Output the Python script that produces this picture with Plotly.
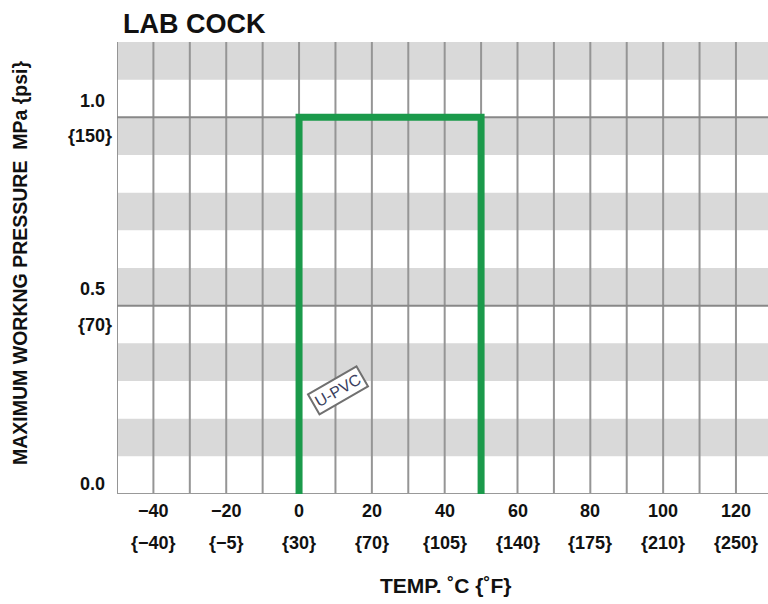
import plotly.graph_objects as go

# ---- data ----
temp_c_ticks = [-40, -20, 0, 20, 40, 60, 80, 100, 120]
temp_f_labels = ["{−40}", "{−5}", "{30}", "{70}", "{105}", "{140}", "{175}", "{210}", "{250}"]
temp_c_labels = ["−40", "−20", "0", "20", "40", "60", "80", "100", "120"]
grid_x = list(range(-50, 121, 10))
pressure_ticks = [0.0, 0.5, 1.0]
pressure_labels = ["0.0", "0.5", "1.0"]
psi_ticks = [0.5, 1.0]
psi_labels = ["{70}", "{150}"]
band_lows = [0.1, 0.3, 0.5, 0.7, 0.9, 1.1]
band_highs = [0.2, 0.4, 0.6, 0.8, 1.0, 1.2]
upvc_temp = [0, 0, 50, 50]
upvc_pressure = [0.0, 1.0, 1.0, 0.0]

X_RANGE = [-50, 128.8]
Y_RANGE = [0, 1.2]
FONT = "Liberation Sans"

fig = go.Figure()
fig.add_trace(go.Scatter(x=upvc_temp, y=upvc_pressure, mode="lines",
                         line=dict(color="#1b9a4b", width=7), showlegend=False,
                         hoverinfo="skip"))

shapes = []
for lo, hi in zip(band_lows, band_highs):
    shapes.append(dict(type="rect", xref="paper", yref="y", x0=0, x1=1, y0=lo, y1=hi,
                       fillcolor="#d9d9d9", line=dict(width=0), layer="below"))
for gx in grid_x:
    shapes.append(dict(type="line", xref="x", yref="paper", x0=gx, x1=gx, y0=0, y1=1,
                       line=dict(color="#959595", width=2), layer="below"))
for py in [0.5, 1.0]:
    shapes.append(dict(type="line", xref="paper", yref="y", x0=0, x1=1, y0=py, y1=py,
                       line=dict(color="#888888", width=2), layer="below"))
shapes.append(dict(type="line", xref="paper", yref="y", x0=0, x1=1, y0=0, y1=0,
                   line=dict(color="#999999", width=2), layer="below"))

ann = []
tick_font = dict(family=FONT, size=18, color="#111111", weight="bold")
for xv, lab, flab in zip(temp_c_ticks, temp_c_labels, temp_f_labels):
    ann.append(dict(x=xv, y=0, xref="x", yref="paper", text=lab, showarrow=False,
                    xanchor="center", yanchor="middle", yshift=-17, font=tick_font))
    ann.append(dict(x=xv, y=0, xref="x", yref="paper", text=flab, showarrow=False,
                    xanchor="center", yanchor="middle", yshift=-48.5, font=tick_font))
for yv, lab in zip(pressure_ticks, pressure_labels):
    ann.append(dict(x=0, y=yv, xref="paper", yref="y", text=lab, showarrow=False,
                    xanchor="right", yanchor="middle", xshift=-10,
                    yshift=(10.5 if yv == 0 else 16.5), font=tick_font))
for yv, lab in zip(psi_ticks, psi_labels):
    ann.append(dict(x=0, y=yv, xref="paper", yref="y", text=lab, showarrow=False,
                    xanchor="right", yanchor="middle", xshift=-3, yshift=-19, font=tick_font))

ann.append(dict(x=(445 - 117) / 651, y=0, xref="paper", yref="paper",
                text="TEMP. ˚C {˚F}", showarrow=False, xanchor="center", yanchor="middle",
                yshift=-91.5, font=dict(family=FONT, size=21, color="#111111", weight="bold")))
ann.append(dict(x=0, y=(494 - 262.5) / 452, xref="paper", yref="paper",
                text="MAXIMUM WORKNG PRESSURE  MPa {psi}", showarrow=False, textangle=-90,
                xanchor="center", yanchor="middle", xshift=-97.5,
                font=dict(family=FONT, size=19.5, color="#111111", weight="bold")))
ann.append(dict(x=0, y=1, xref="paper", yref="paper", text="LAB COCK", showarrow=False,
                xanchor="left", yanchor="middle", xshift=4, yshift=18,
                font=dict(family=FONT, size=27, color="#111111", weight="bold")))
ann.append(dict(x=10.6, y=0.275, xref="x", yref="y", text="U-PVC", showarrow=False,
                textangle=-30, xanchor="center", yanchor="middle",
                bordercolor="#707070", borderwidth=2, borderpad=2, bgcolor="white",
                font=dict(family=FONT, size=16, color="#3a3f60")))

fig.update_layout(
    width=768, height=604,
    margin=dict(l=117, r=0, t=42, b=110),
    plot_bgcolor="white", paper_bgcolor="white",
    xaxis=dict(range=X_RANGE, showgrid=False, zeroline=False, showticklabels=False,
               ticks="", showline=False, fixedrange=True),
    yaxis=dict(range=Y_RANGE, showgrid=False, zeroline=False, showticklabels=False,
               ticks="", showline=False, fixedrange=True),
    shapes=shapes, annotations=ann, showlegend=False,
)
fig.write_html("out.html", config={"displayModeBar": False},
               post_script="document.body.style.margin='0';document.body.style.overflow='hidden';")
